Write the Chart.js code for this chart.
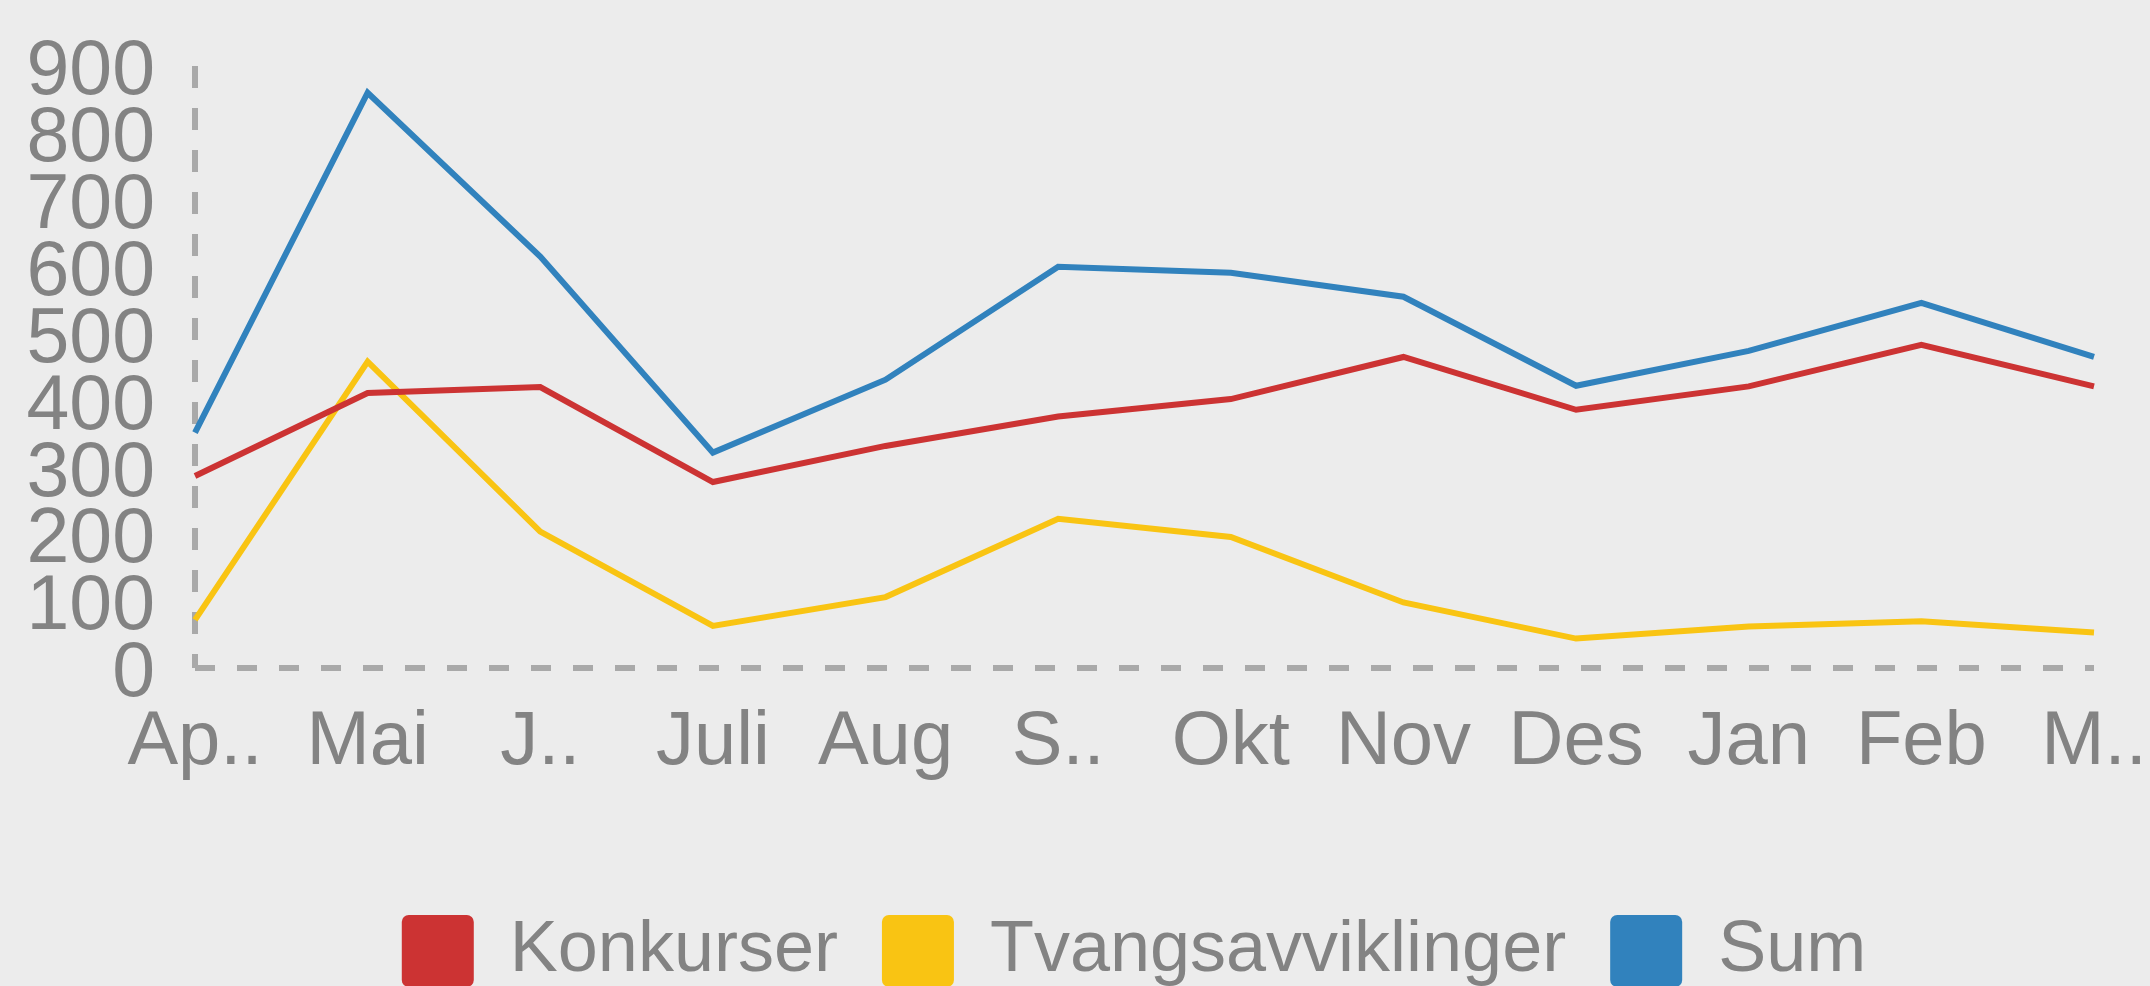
<!DOCTYPE html>
<html>
<head>
<meta charset="utf-8">
<script src="https://cdn.jsdelivr.net/npm/chart.js@4.4.1/dist/chart.umd.min.js"></script>
<style>
  html, body { margin:0; padding:0; background:#ececec; overflow:hidden; }
  #wrap { position:relative; width:2268px; height:997px; }
</style>
</head>
<body>
<div id="wrap"><canvas id="c"></canvas></div>
<script>
const categories = ["Ap..", "Mai", "J..", "Juli", "Aug", "S..", "Okt", "Nov", "Des", "Jan", "Feb", "M.."];
const konkurser = [287, 411, 420, 278, 332, 376, 402, 465, 386, 421, 483, 421];
const tvangsavviklinger = [72, 458, 204, 63, 106, 223, 196, 98, 44, 62, 70, 53];
const sum = [352, 860, 615, 322, 431, 600, 591, 555, 422, 474, 546, 465];
const seriesNames = ["Konkurser", "Tvangsavviklinger", "Sum"];
const yTicks = [0, 100, 200, 300, 400, 500, 600, 700, 800, 900];

const colors = ["#cc3333", "#f9c413", "#3182bd"];
const textColor = "#838383";
const axisColor = "#a9a9a9";
const font = "'Liberation Sans', Arial, sans-serif";

const seriesData = [konkurser, tvangsavviklinger, sum];

new Chart(document.getElementById('c'), {
  type: 'line',
  data: {
    labels: categories,
    datasets: seriesNames.map((name, i) => ({
      label: name,
      data: seriesData[i],
      borderColor: colors[i],
      backgroundColor: colors[i],
      borderWidth: 6,
      pointRadius: 0,
      tension: 0,
      fill: false
    }))
  },
  options: {
    responsive: true,
    maintainAspectRatio: false,
    animation: false,
    layout: { padding: { top: 66, left: 0, right: 0, bottom: 0 } },
    plugins: {
      tooltip: { enabled: false },
      legend: {
        position: 'bottom',
        labels: {
          color: textColor,
          font: { family: font, size: 72 },
          boxWidth: 72,
          boxHeight: 72,
          padding: 44,
          useBorderRadius: true,
          borderRadius: 7,
          generateLabels: (chart) => {
            const items = Chart.defaults.plugins.legend.labels.generateLabels(chart);
            items.forEach(it => { it.lineWidth = 0; it.strokeStyle = 'rgba(0,0,0,0)'; });
            return items;
          }
        }
      }
    },
    scales: {
      x: {
        grid: { display: true, drawTicks: false, lineWidth: 6,
                color: (c) => c.index === 0 ? axisColor : 'rgba(0,0,0,0)' },
        border: { display: false, dash: [22, 20] },
        ticks: { color: textColor, font: { family: font, size: 76 }, padding: 29, maxRotation: 0, autoSkip: false },
        afterFit: (s) => { s.height = 203; }
      },
      y: {
        min: 0, max: 900,
        afterBuildTicks: (s) => { s.ticks = yTicks.map(v => ({ value: v })); },
        grid: { display: true, drawTicks: false, lineWidth: 6,
                color: (c) => c.index === 0 ? axisColor : 'rgba(0,0,0,0)' },
        border: { display: false, dash: [20, 22] },
        ticks: { color: textColor, font: { family: font, size: 77 }, padding: 40, autoSkip: false, labelOffset: 7 },
        afterFit: (s) => { s.width = 195; s.paddingTop = 0; s.paddingBottom = 0; }
      },
      yR: {
        type: 'linear',
        position: 'right',
        display: true,
        grid: { display: false, drawTicks: false },
        border: { display: false },
        ticks: { display: false },
        afterFit: (s) => { s.width = 174; s.paddingTop = 0; s.paddingBottom = 0; }
      }
    }
  }
});
</script>
</body>
</html>
